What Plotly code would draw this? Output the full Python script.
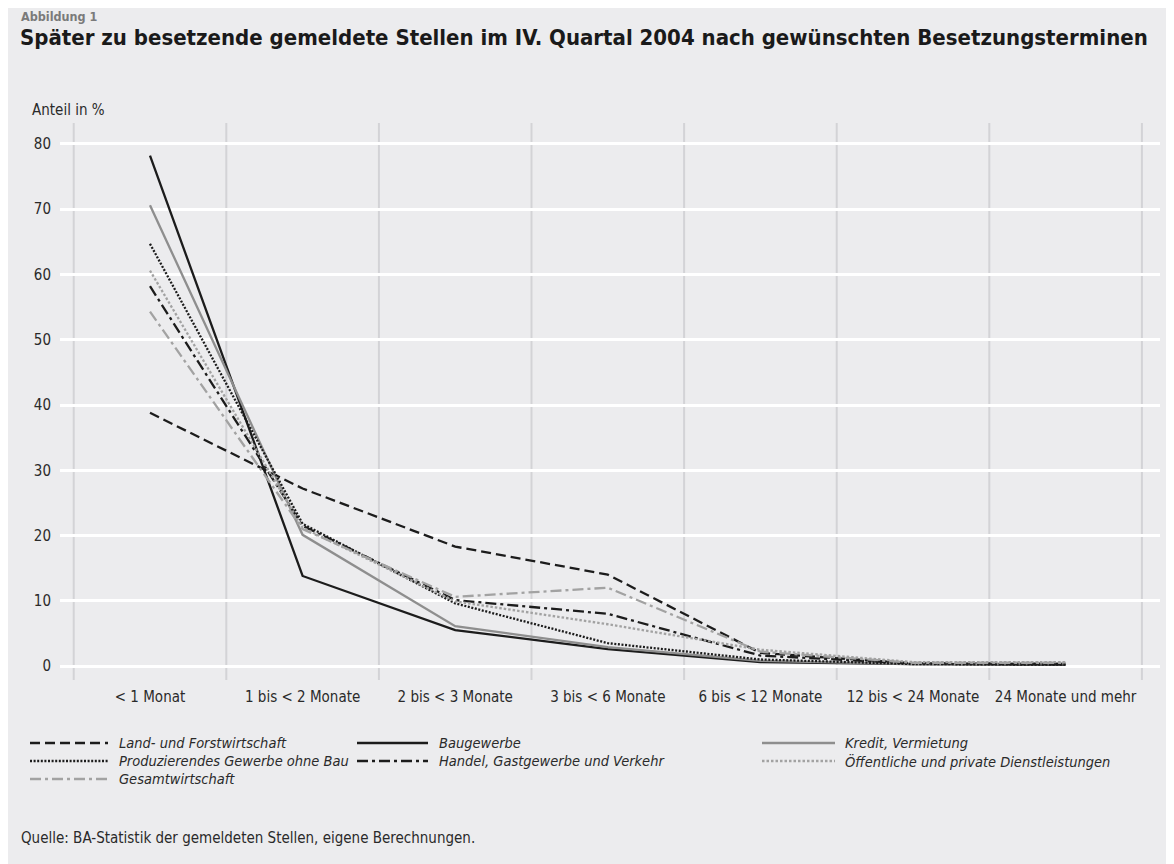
import plotly.graph_objects as go

categories = ["< 1 Monat", "1 bis < 2 Monate", "2 bis < 3 Monate", "3 bis < 6 Monate",
              "6 bis < 12 Monate", "12 bis < 24 Monate", "24 Monate und mehr"]
y_ticks = [0, 10, 20, 30, 40, 50, 60, 70, 80]

land = [38.8, 27.2, 18.3, 14.0, 2.0, 0.4, 0.3]
bau = [78.2, 13.8, 5.5, 2.6, 0.6, 0.3, 0.2]
kredit = [70.6, 20.1, 6.1, 2.9, 0.8, 0.3, 0.4]
prod = [64.7, 21.8, 9.6, 3.5, 1.0, 0.3, 0.2]
handel = [58.2, 21.5, 10.1, 8.0, 1.6, 0.4, 0.3]
oeff = [60.6, 21.2, 9.9, 6.4, 2.5, 0.6, 0.6]
gesamt = [54.3, 21.0, 10.6, 12.0, 2.2, 0.5, 0.5]

series_names = ["Land- und Forstwirtschaft", "Baugewerbe", "Kredit, Vermietung",
                "Produzierendes Gewerbe ohne Bau", "Handel, Gastgewerbe und Verkehr",
                "Öffentliche und private Dienstleistungen", "Gesamtwirtschaft"]
series_values = [land, bau, kredit, prod, handel, oeff, gesamt]

BLACK = "#1c1c1c"
GRAY = "#8e8e8e"
LGRAY = "#a2a2a2"
styles = [
    (BLACK, "10px,5px"),
    (BLACK, "solid"),
    (GRAY, "solid"),
    (BLACK, "2px,1.6px"),
    (BLACK, "11px,4px,3px,4px"),
    (LGRAY, "2.5px,2px"),
    (LGRAY, "11px,4px,3px,4px"),
]

FONT = "Liberation Sans Narrow, DejaVu Sans Condensed, Arial Narrow, Roboto, sans-serif"
BG = "#ececee"
OFF = 8  # page body margin
W, H = 1166, 856
L, R, T, B = 52, 14, 115, 184
PW = W - L - R
PH = H - T - B


def px(x, y):
    """screen pixel -> paper coords"""
    fx, fy = x - OFF, y - OFF
    return (fx - L) / PW, (H - B - fy) / PH


fig = go.Figure()
xs = list(range(len(categories)))
for name, vals, (col, dash) in zip(series_names, series_values, styles):
    fig.add_trace(go.Scatter(x=xs, y=vals, mode="lines", name=name,
                             line=dict(color=col, width=2.3, dash=dash),
                             showlegend=False))

shapes = []
# vertical category boundary lines
for i in range(len(categories) + 1):
    shapes.append(dict(type="line", xref="x", yref="paper", x0=i - 0.5, x1=i - 0.5,
                       y0=0, y1=1, line=dict(color="#d3d3d6", width=2), layer="below"))

annotations = []
# legend (manual, 3 columns)
col_line = [(30, 108), (357, 428), (762, 835)]
col_text = [117, 437, 843]
row_y = [743, 761, 779]
for k, (name, (col, dash)) in enumerate(zip(series_names, styles)):
    r, c = divmod(k, 3)
    x0, y0 = px(col_line[c][0], row_y[r])
    x1, _ = px(col_line[c][1], row_y[r])
    shapes.append(dict(type="line", xref="paper", yref="paper", x0=x0, x1=x1, y0=y0, y1=y0,
                       line=dict(color=col, width=2.3, dash=dash)))
    tx, ty = px(col_text[c], row_y[r])
    annotations.append(dict(xref="paper", yref="paper", x=tx, y=ty, xanchor="left",
                            yanchor="middle", showarrow=False,
                            text=f"<i>{name}</i>",
                            font=dict(family=FONT, size=14.5, color="#2a2a2a")))

ax, ay = px(19, 16)
annotations.append(dict(xref="paper", yref="paper", x=ax, y=ay, xanchor="left", yanchor="middle",
                        showarrow=False, text="<b>Abbildung 1</b>",
                        font=dict(family=FONT, size=12.5, color="#7a7a7a")))
ax, ay = px(18, 37)
annotations.append(dict(xref="paper", yref="paper", x=ax, y=ay, xanchor="left", yanchor="middle",
                        showarrow=False,
                        text="<b>Später zu besetzende gemeldete Stellen im IV. Quartal 2004 nach gewünschten Besetzungsterminen</b>",
                        font=dict(family=FONT, size=22, color="#1a1a1a")))
ax, ay = px(30, 110)
annotations.append(dict(xref="paper", yref="paper", x=ax, y=ay, xanchor="left", yanchor="middle",
                        showarrow=False, text="Anteil in %",
                        font=dict(family=FONT, size=15, color="#2a2a2a")))
ax, ay = px(19, 838)
annotations.append(dict(xref="paper", yref="paper", x=ax, y=ay, xanchor="left", yanchor="middle",
                        showarrow=False,
                        text="Quelle: BA-Statistik der gemeldeten Stellen, eigene Berechnungen.",
                        font=dict(family=FONT, size=15, color="#2a2a2a")))

x_lo = (L - (150 - OFF)) / 152.6
x_hi = (W - R - (150 - OFF)) / 152.6
y_unit = 6.53
y_lo = -(H - B - (666 - OFF)) / y_unit
y_hi = 80 + ((144 - OFF) - T) / y_unit

fig.update_layout(
    width=W, height=H,
    margin=dict(l=L, r=R, t=T, b=B),
    paper_bgcolor=BG, plot_bgcolor=BG,
    font=dict(family=FONT, size=15, color="#2a2a2a"),
    shapes=shapes, annotations=annotations,
    xaxis=dict(range=[x_lo, x_hi], tickvals=xs, ticktext=categories, showgrid=False,
               zeroline=False, showline=False, ticks="", ticklabelstandoff=6,
               tickfont=dict(family=FONT, size=15, color="#2a2a2a")),
    yaxis=dict(range=[y_lo, y_hi], tickvals=y_ticks, showgrid=True, gridcolor="white",
               gridwidth=2.5, zeroline=False, showline=False, ticks="",
               ticklabelstandoff=8,
               tickfont=dict(family=FONT, size=15, color="#2a2a2a")),
    showlegend=False,
)

fig.write_html("out.html")
